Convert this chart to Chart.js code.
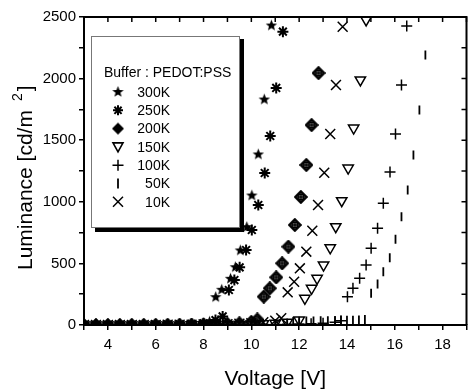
<!DOCTYPE html>
<html><head><meta charset="utf-8">
<script src="https://cdn.jsdelivr.net/npm/chart.js@4.4.0/dist/chart.umd.min.js"></script>
<style>html,body{margin:0;padding:0;background:#fff}#wrap{width:475px;height:391px;position:relative}</style>
</head><body><div id="wrap"><canvas id="c"></canvas></div>
<script>
const FONT = '"Liberation Sans", Arial, Helvetica, sans-serif';

// ---- data (Voltage [V], Luminance [cd/m2]) ----
const v300 = [3,3.5,4,4.5,5,5.5,6,6.5,7,7.5,8,8.25,8.51,8.76,9.13,9.33,9.54,9.81,10.02,10.29,10.54,10.84];
const l300 = [0,0,0,1,1,2,3,4,6,9,15,30,230,290,379,473,609,798,1055,1388,1834,2435];
const v250 = [3,3.5,4,4.5,5,5.5,6,6.5,7,7.5,8,8.5,8.8,9.06,9.29,9.51,9.78,10.02,10.29,10.56,10.79,11.04,11.32];
const l250 = [0,0,0,1,1,2,3,4,6,9,14,40,70,284,365,468,609,771,974,1234,1534,1924,2381];
const v200 = [3,3.5,4,4.5,5,5.5,6,6.5,7,7.5,8,8.5,9,9.5,10,10.25,10.52,10.77,11.04,11.29,11.55,11.82,12.07,12.30,12.52,12.81];
const l200 = [0,0,0,0,1,1,1,2,2,3,4,6,9,14,25,45,230,298,387,501,636,812,1039,1299,1623,2045];
const v150 = [3,3.5,4,4.5,5,5.5,6,6.5,7,7.5,8,8.5,9,9.5,10,10.5,11,11.5,12,12.24,12.52,12.75,13.02,13.30,13.53,13.78,14.05,14.28,14.56,14.80];
const l150 = [0,0,0,0,0,1,1,1,1,2,2,3,4,5,7,10,14,22,40,217,298,379,487,627,798,1009,1274,1599,1989,2476];
const v100 = [3,3.5,4,4.5,5,5.5,6,6.5,7,7.5,8,8.5,9,9.5,10,10.5,11,11.5,12,12.5,13,13.5,13.75,14.02,14.25,14.53,14.80,15.01,15.28,15.52,15.80,16.03,16.28,16.50];
const l100 = [0,0,0,0,0,0,1,1,1,1,2,2,2,3,3,4,5,6,8,11,15,22,35,230,298,379,487,623,785,988,1242,1550,1948,2427];
const v50  = [3,3.5,4,4.5,5,5.5,6,6.5,7,7.5,8,8.5,9,9.5,10,10.5,11,11.5,11.75,12.0,12.3,12.6,12.9,13.2,13.5,13.75,14.0,14.25,14.5,14.75,15.01,15.28,15.52,15.79,16.03,16.28,16.54,16.78,17.03,17.28];
const l50  = [0,0,0,0,0,0,0,1,1,1,1,2,2,3,4,5,8,14,28,30,32,33,34,35,36,37,38,39,40,44,257,333,433,546,696,879,1096,1380,1745,2192];
const v10  = [3,3.5,4,4.5,5,5.5,6,6.5,7,7.5,8,8.5,9,9.5,10,10.5,11,11.25,11.52,11.79,12.03,12.30,12.55,12.79,13.05,13.30,13.54,13.82];
const l10  = [0,0,0,0,1,1,1,2,2,3,4,5,7,10,15,22,35,55,265,351,460,595,765,974,1236,1550,1948,2421];

const seriesLabels = ['300K','250K','200K','150K','100K','50K','10K'];
const legendTitle = 'Buffer : PEDOT:PSS';
const xTickLabels = [4,6,8,10,12,14,16,18];
const yTickLabels = [0,500,1000,1500,2000,2500];
const xTitle = 'Voltage [V]';
const yTitleMain = 'Luminance [cd/m';
const yTitleSup = '2';
const yTitleEnd = ']';

// ---- marker images ----
function mk(w,h,draw){const c=document.createElement('canvas');c.width=w;c.height=h;const g=c.getContext('2d');draw(g);return c;}
const starImg = mk(13,13,g=>{g.fillStyle='#000';g.beginPath();for(let i=0;i<10;i++){const r=i%2?2.6:6;const a=-Math.PI/2+i*Math.PI/5;g.lineTo(6.5+r*Math.cos(a),7+r*Math.sin(a));}g.closePath();g.fill();});
const diaImg = mk(14,14,g=>{g.strokeStyle='#000';g.lineWidth=2.2;g.beginPath();g.moveTo(7,1.2);g.lineTo(12.8,7);g.lineTo(7,12.8);g.lineTo(1.2,7);g.closePath();g.stroke();g.lineWidth=1.5;g.beginPath();g.arc(7,7,2.7,0,2*Math.PI);g.stroke();g.beginPath();g.moveTo(7,2.5);g.lineTo(7,11.5);g.moveTo(2.5,7);g.lineTo(11.5,7);g.stroke();});
const diaFill = mk(14,14,g=>{g.fillStyle='#000';g.beginPath();g.moveTo(7,1);g.lineTo(13,7);g.lineTo(7,13);g.lineTo(1,7);g.closePath();g.fill();});

function pts(xs,ys){return xs.map((x,i)=>({x:x,y:ys[i]}));}
const base = {showLine:false, borderColor:'#000', backgroundColor:'#000', clip:0};
const datasets = [
  Object.assign({}, base, {label:seriesLabels[0], data:pts(v300,l300), pointStyle:starImg, pointRadius:6}),
  Object.assign({}, base, {label:seriesLabels[1], data:pts(v250,l250), pointStyle:'star', pointRadius:5.5, pointBorderWidth:2}),
  Object.assign({}, base, {label:seriesLabels[2], data:pts(v200,l200), pointStyle:diaImg, pointRadius:7}),
  Object.assign({}, base, {label:seriesLabels[3], data:pts(v150,l150), pointStyle:'triangle', pointRotation:180, pointRadius:6, pointBorderWidth:1.5, backgroundColor:'rgba(0,0,0,0)'}),
  Object.assign({}, base, {label:seriesLabels[4], data:pts(v100,l100), pointStyle:'cross', pointRadius:5.5, pointBorderWidth:1.5}),
  Object.assign({}, base, {label:seriesLabels[5], data:pts(v50,l50), pointStyle:'line', pointRotation:90, pointRadius:4.5, pointBorderWidth:1.8}),
  Object.assign({}, base, {label:seriesLabels[6], data:pts(v10,l10), pointStyle:'crossRot', pointRadius:7, pointBorderWidth:1.5})
];

// legend marker drawing
function legendMark(ctx, i, x, y){
  ctx.save(); ctx.strokeStyle='#000'; ctx.fillStyle='#000'; ctx.lineWidth=1.5;
  ctx.beginPath();
  if(i===0){ctx.drawImage(starImg, x-6.5, y-7);}
  else if(i===1){ctx.lineWidth=2;const r=5;ctx.moveTo(x-r,y);ctx.lineTo(x+r,y);ctx.moveTo(x,y-r);ctx.lineTo(x,y+r);const d=r*0.72;ctx.moveTo(x-d,y-d);ctx.lineTo(x+d,y+d);ctx.moveTo(x-d,y+d);ctx.lineTo(x+d,y-d);ctx.stroke();}
  else if(i===2){ctx.drawImage(diaFill, x-7, y-7);}
  else if(i===3){ctx.lineWidth=1.6;ctx.moveTo(x-5,y-4);ctx.lineTo(x+5,y-4);ctx.lineTo(x,y+5);ctx.closePath();ctx.stroke();}
  else if(i===4){ctx.moveTo(x-5.5,y);ctx.lineTo(x+5.5,y);ctx.moveTo(x,y-5.5);ctx.lineTo(x,y+5.5);ctx.stroke();}
  else if(i===5){ctx.lineWidth=1.8;ctx.moveTo(x,y-5);ctx.lineTo(x,y+5);ctx.stroke();}
  else if(i===6){const d=5;ctx.moveTo(x-d,y-d);ctx.lineTo(x+d,y+d);ctx.moveTo(x-d,y+d);ctx.lineTo(x+d,y-d);ctx.stroke();}
  ctx.restore();
}

const decor = {
  id:'decor',
  afterDraw(chart){
    const ctx=chart.ctx, a=chart.chartArea, sx=chart.scales.x, sy=chart.scales.y;
    ctx.save();
    ctx.strokeStyle='#000'; ctx.lineWidth=2;
    ctx.beginPath(); ctx.moveTo(a.left,a.top); ctx.lineTo(a.right,a.top); ctx.lineTo(a.right,a.bottom); ctx.stroke();
    ctx.lineWidth=1.5; ctx.beginPath();
    sx.ticks.forEach(t=>{const p=sx.getPixelForValue(t.value); ctx.moveTo(p,a.top); ctx.lineTo(p,a.top+5);});
    sy.ticks.forEach(t=>{const p=sy.getPixelForValue(t.value); ctx.moveTo(a.right,p); ctx.lineTo(a.right-5,p);});
    ctx.stroke();
    // legend box
    const bx=91, by=36, bw=149, bh=192;
    ctx.fillStyle='#000'; ctx.fillRect(bx+bw, by+3, 4, bh+1); ctx.fillRect(bx+4, by+bh, bw, 4);
    ctx.fillStyle='#fff'; ctx.fillRect(bx,by,bw,bh);
    ctx.strokeStyle='#777'; ctx.lineWidth=1; ctx.strokeRect(bx+0.5,by+0.5,bw-1,bh-1);
    ctx.fillStyle='#000'; ctx.font='14px '+FONT; ctx.textBaseline='alphabetic'; ctx.textAlign='left';
    ctx.fillText(legendTitle, 104, 77);
    chart.data.datasets.forEach((ds,i)=>{
      const yy = 92 + i*18.3;
      legendMark(ctx, i, 118, yy);
      ctx.fillStyle='#000'; ctx.textAlign='right'; ctx.textBaseline='middle';
      ctx.fillText(ds.label, 170, yy+1);
    });
    // axis titles
    ctx.font='21px '+FONT; ctx.textAlign='center'; ctx.textBaseline='alphabetic';
    ctx.fillText(xTitle, (a.left+a.right)/2, 385);
    ctx.translate(32, 270); ctx.rotate(-Math.PI/2);
    ctx.textAlign='left';
    ctx.fillText(yTitleMain, 0, 0);
    let w = ctx.measureText(yTitleMain).width;
    ctx.font='14px '+FONT;
    ctx.fillText(yTitleSup, w+9, -10);
    let w2 = ctx.measureText(yTitleSup).width;
    ctx.font='21px '+FONT;
    ctx.fillText(yTitleEnd, w+9+w2+2, 0);
    ctx.restore();
  }
};

Chart.defaults.font.family = FONT;
Chart.defaults.color = '#000';
new Chart(document.getElementById('c'), {
  type:'scatter',
  data:{datasets:datasets},
  options:{
    responsive:true, maintainAspectRatio:false, animation:false,
    layout:{padding:{top:17,right:1,left:0,bottom:0}},
    plugins:{legend:{display:false}, tooltip:{enabled:false}},
    scales:{
      x:{type:'linear', min:3, max:19, position:'bottom',
        ticks:{stepSize:1, autoSkip:false, maxRotation:0, padding:6, font:{size:15}, color:'#000',
          callback:v=> xTickLabels.includes(v) ? String(v) : ''},
        grid:{display:true, drawOnChartArea:false, drawTicks:true, tickLength:5, color:'#000', lineWidth:1.5},
        border:{display:true, color:'#000', width:2},
        afterFit:s=>{s.height=66;}
      },
      y:{type:'linear', min:0, max:2500,
        ticks:{stepSize:250, autoSkip:false, padding:3, font:{size:15}, color:'#000',
          callback:v=> yTickLabels.includes(v) ? String(v) : ''},
        grid:{display:true, drawOnChartArea:false, drawTicks:true, tickLength:5, color:'#000', lineWidth:1.5},
        border:{display:true, color:'#000', width:2},
        afterFit:s=>{s.width=84;}
      }
    }
  },
  plugins:[decor]
});
</script></body></html>
